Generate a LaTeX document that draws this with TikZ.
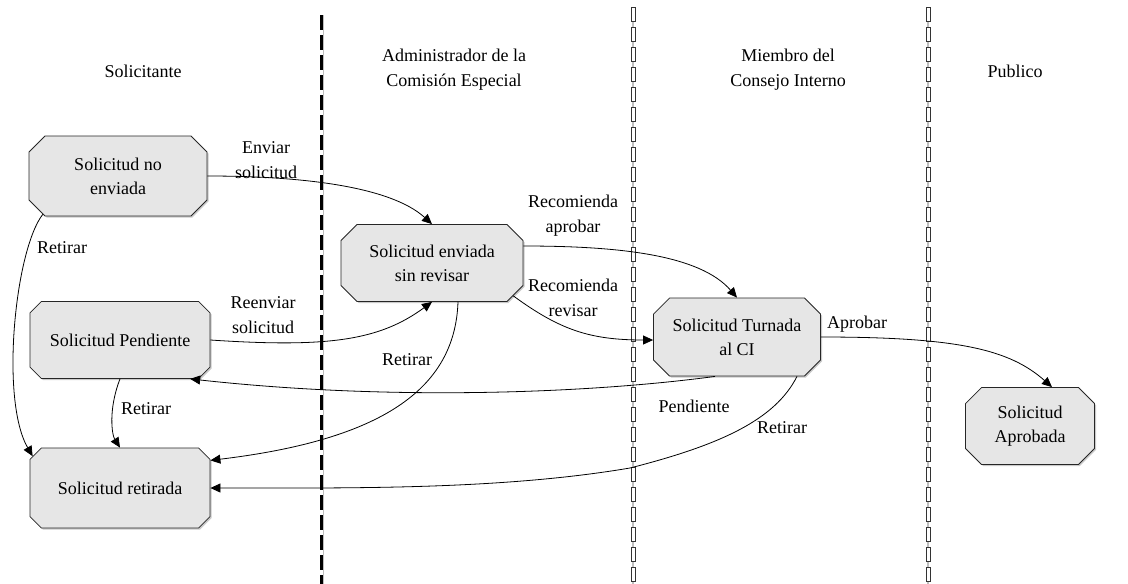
\documentclass[tikz,border=0pt]{standalone}
\usepackage{fontspec}
\setmainfont{Liberation Serif}
\usetikzlibrary{shapes.misc,shadows,arrows.meta,calc}
\definecolor{statefill}{RGB}{230,230,230}
\definecolor{lanegray}{RGB}{190,190,190}
\tikzset{
  state/.style={chamfered rectangle, chamfered rectangle xsep=13pt,
    draw=black!85, line width=0.8pt, fill=statefill, align=center,
    inner sep=2pt, font=\fontsize{18}{24}\selectfont,
    drop shadow={shadow xshift=1.5pt, shadow yshift=-1.5pt, opacity=0.35, fill=black!60}},
  lbl/.style={align=center, inner sep=0pt, font=\fontsize{18}{25}\selectfont},
  hdr/.style={align=center, inner sep=0pt, font=\fontsize{18}{25}\selectfont},
  arr/.style={line width=0.8pt, -{Triangle[length=10pt,width=9pt]}},
}
\begin{document}
\begin{tikzpicture}[x=1pt,y=-1pt]
\useasboundingbox (0,0) rectangle (1128,584);

% swimlane separators
\draw[lanegray, line width=1.2pt] (323.5,15) -- (323.5,584);
\draw[black, line width=3pt, dash pattern=on 15pt off 5pt] (321.5,15) -- (321.5,584);
\foreach \lx in {633,928}{
  \draw[lanegray, line width=1.2pt] (\lx,7) -- (\lx,584);
  \foreach \ly in {7,27,...,580}
    \draw[black!80, line width=0.7pt, fill=white] (\lx-2,\ly) rectangle (\lx+2,\ly+14);
}

% lane headers
\node[hdr] (hsol) at (143,71) {Solicitante};
\node[hdr] (hadm) at (454,70) {Administrador de la\\Comisión Especial};
\node[hdr] (hmie) at (788,70) {Miembro del\\Consejo Interno};
\node[hdr] (hpub) at (1015,71) {Publico};

% states
\node[state, minimum width=178pt, minimum height=80pt] (noenv) at (118,176) {Solicitud no\\enviada};
\node[state, minimum width=182pt, minimum height=77pt] (env) at (432,263) {Solicitud enviada\\sin revisar};
\node[state, minimum width=167pt, minimum height=78pt] (turn) at (737,337) {Solicitud Turnada\\al CI};
\node[state, minimum width=129pt, minimum height=77pt] (aprob) at (1030,426) {Solicitud\\Aprobada};
\node[state, minimum width=180pt, minimum height=77pt] (pend) at (120,340) {Solicitud Pendiente};
\node[state, minimum width=180pt, minimum height=80pt] (ret) at (120,488) {Solicitud retirada};

% transitions
\draw[arr] (noenv.east) .. controls (300,176) and (390,186) .. (env.north);
\draw[arr] (noenv.207) .. controls (15,250) and (0,400) .. (ret.160);
\draw[arr] ($(env.east)+(0,-17)$) .. controls (620,246) and (700,255) .. (turn.north);
\draw[arr] (env.338) .. controls (560,330) and (590,340) .. ($(turn.west)+(0,3)$);
\draw[arr] (pend.east) .. controls (330,348) and (380,340) .. (env.south);
\draw[arr] ($(env.south)+(26,0)$) .. controls (455,390) and (380,440) .. (ret.17);
\draw[arr] ($(turn.south)+(-22,0)$) .. controls (600,392) and (400,402) .. (pend.331);
\draw[arr] ($(turn.south)+(60,0)$) .. controls (775,420) and (720,445) .. (630,468)
  .. controls (500,490) and (350,488) .. (ret.east);
\draw[arr] (turn.east) .. controls (960,337) and (1010,350) .. ($(aprob.north)+(22,0)$);
\draw[arr] (pend.south) .. controls (108,410) and (112,435) .. (ret.north);

% transition labels
\node[lbl] (lenv) at (266,160) {Enviar\\solicitud};
\node[lbl] (lret1) at (62,248) {Retirar};
\node[lbl] (lrap) at (573,216) {Recomienda\\aprobar};
\node[lbl] (lrrv) at (573,298) {Recomienda\\revisar};
\node[lbl] (lreen) at (263,315) {Reenviar\\solicitud};
\node[lbl] (lret2) at (407,360) {Retirar};
\node[lbl] (lapr) at (857,324) {Aprobar};
\node[lbl] (lret3) at (146,409) {Retirar};
\node[lbl] (lpen) at (694,406) {Pendiente};
\node[lbl] (lret4) at (782,428) {Retirar};
\end{tikzpicture}
\end{document}
